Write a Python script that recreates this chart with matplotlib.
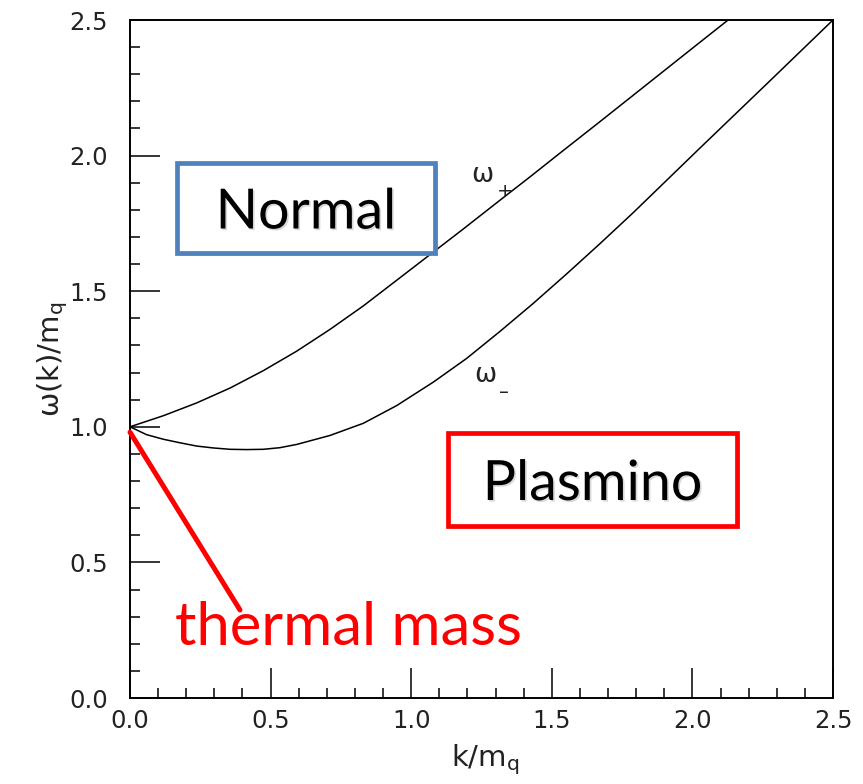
import matplotlib
matplotlib.use("Agg")
import matplotlib.pyplot as plt
import matplotlib.patheffects as pe
from matplotlib.patches import Rectangle
from matplotlib.ticker import MultipleLocator, FormatStrFormatter

# values
k_plus = [0.0, 0.119, 0.237, 0.356, 0.474, 0.593, 0.711, 0.830, 0.948, 1.067,
          1.186, 1.304, 1.423, 1.541, 1.660, 1.778, 1.897, 2.016, 2.127]
w_plus = [1.0, 1.041, 1.088, 1.143, 1.207, 1.279, 1.359, 1.446, 1.540, 1.635,
          1.730, 1.826, 1.922, 2.019, 2.116, 2.213, 2.311, 2.409, 2.50]

k_minus = [0.0, 0.059, 0.119, 0.178, 0.237, 0.296, 0.356, 0.415, 0.474, 0.533,
           0.593, 0.711, 0.830, 0.948, 1.079, 1.197, 1.316, 1.434, 1.553, 1.671,
           1.790, 2.027, 2.264, 2.50]
w_minus = [1.0, 0.971, 0.954, 0.941, 0.929, 0.922, 0.917, 0.916, 0.917, 0.923,
           0.935, 0.968, 1.013, 1.078, 1.165, 1.252, 1.352, 1.455, 1.564, 1.675,
           1.790, 2.028, 2.264, 2.50]

branch_symbol = "ω"
branch_signs = ["+", "–"]
region_labels = ["Normal", "Plasmino"]
thermal_label = "thermal mass"

W, H = 863, 784
fig = plt.figure(figsize=(W / 100, H / 100), dpi=100)
ax = fig.add_axes([130 / W, 1 - 698 / H, 703 / W, 678 / H])

ax.plot(k_plus, w_plus, color="black", lw=1.1)
ax.plot(k_minus, w_minus, color="black", lw=1.1)

ax.set_xlim(0, 2.5)
ax.set_ylim(0, 2.5)
ax.xaxis.set_major_locator(MultipleLocator(0.5))
ax.yaxis.set_major_locator(MultipleLocator(0.5))
ax.xaxis.set_minor_locator(MultipleLocator(0.1))
ax.yaxis.set_minor_locator(MultipleLocator(0.1))
ax.xaxis.set_major_formatter(FormatStrFormatter("%.1f"))
ax.yaxis.set_major_formatter(FormatStrFormatter("%.1f"))
ax.tick_params(which="both", direction="in", top=False, right=False,
               width=1.1, colors="black", labelsize=17.5, labelcolor="#222222")
ax.tick_params(which="major", length=21.6)
ax.tick_params(which="minor", length=7.2)
ax.tick_params(axis="y", which="major", pad=16)
ax.tick_params(axis="x", which="major", pad=8)
for s in ax.spines.values():
    s.set_linewidth(1.4)

ax.set_xlabel(r"k/m$_\mathrm{q}$", fontsize=21, color="#222222")
ax.set_ylabel(r"ω(k)/m$_\mathrm{q}$", fontsize=21, color="#222222")
ax.xaxis.set_label_coords(0.505, -0.066)
ax.yaxis.set_label_coords(-0.086, 0.5)

# branch labels: omega with a lowered small sign
for (x, y), sign in zip([(1.215, 1.93), (1.225, 1.19)], branch_signs):
    ax.text(x, y, branch_symbol, fontsize=19, color="#222222",
            ha="left", va="center")
    ax.annotate(sign, xy=(x, y), xytext=(25, -17), textcoords="offset pixels",
                fontsize=14, color="#222222", ha="left", va="center")

shadow = [pe.SimplePatchShadow(offset=(2, -2), shadow_rgbFace="gray", alpha=0.35),
          pe.Normal()]
txt_shadow = [pe.SimplePatchShadow(offset=(1.2, -1.2), shadow_rgbFace="gray", alpha=0.3),
              pe.Normal()]


def label_box(x0, y0, x1, y1, color, text):
    rect = Rectangle((x0 / W, 1 - y1 / H), (x1 - x0) / W, (y1 - y0) / H,
                     transform=fig.transFigure, facecolor="white",
                     edgecolor=color, lw=3.4, zorder=5)
    rect.set_path_effects(shadow)
    fig.add_artist(rect)
    t = fig.text((x0 + x1) / 2 / W, 1 - (y0 + y1) / 2 / H, text,
                 family="Lato", fontsize=40, ha="center", va="center_baseline",
                 color="black", zorder=6)
    t.set_path_effects(txt_shadow)


label_box(177, 163, 435, 253, "#4f81bd", region_labels[0])
label_box(448, 433, 737, 526, "#ff0000", region_labels[1])

# thermal mass pointer
ax.annotate("", xy=(0.0, 0.98), xycoords="data",
            xytext=(240 / W, 1 - 610 / H), textcoords="figure fraction",
            arrowprops=dict(arrowstyle="-", color="#ff0000", lw=3.6,
                            shrinkA=0, shrinkB=0),
            annotation_clip=False, zorder=7)
fig.text(175 / W, 1 - 645 / H, thermal_label, family="Lato", fontsize=43,
         color="#ff0000", ha="left", va="baseline")

fig.savefig("out.png", dpi=100)
